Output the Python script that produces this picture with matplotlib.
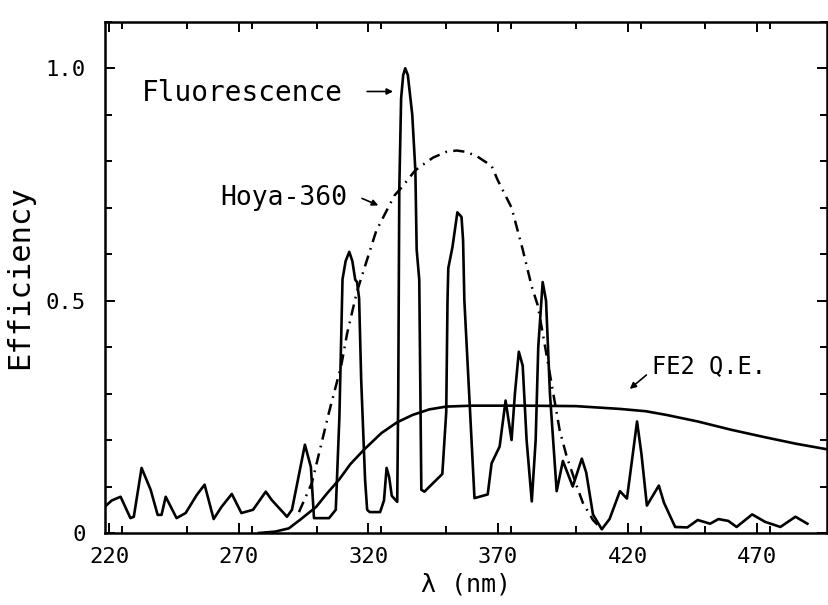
import numpy as np
import matplotlib
matplotlib.use("Agg")
import matplotlib.pyplot as plt
from matplotlib.ticker import MultipleLocator, FixedLocator

# Fluorescence spectrum (solid, spiky)
fluo_wl = [217.8, 221.0, 224.4, 228.2, 229.5, 232.5, 236.0, 238.7, 240.2, 241.8,
           246.0, 249.5, 253.8, 256.8, 260.3, 263.3, 267.3, 271.0, 275.5, 280.4,
           282.7, 288.6, 290.5, 295.5, 297.8, 299.0, 304.8, 307.4, 308.8, 310.0,
           311.2, 312.6, 313.8, 314.9, 315.6, 316.4, 317.2, 318.7, 319.5, 320.5,
           324.5, 326.0, 327.0, 328.0, 329.0, 331.1, 331.5, 331.9, 332.6, 333.4,
           334.2, 335.2, 336.9, 338.1, 338.6, 339.6, 340.4, 341.6, 348.5, 350.0,
           350.5, 350.8, 352.4, 354.3, 355.9, 356.5, 357.0, 359.0, 360.9, 366.0,
           367.5, 370.6, 372.9, 375.2, 376.5, 378.0, 379.5, 381.0, 383.0, 384.5,
           385.5, 387.2, 388.5, 390.0, 392.6, 395.0, 398.8, 402.3, 404.0, 406.6,
           410.0, 413.0, 415.0, 417.0, 419.7, 421.5, 423.6, 425.3, 427.4, 432.0,
           434.0, 438.3, 443.0, 447.0, 451.8, 455.0, 458.8, 462.0, 468.0, 473.0,
           478.9, 484.7, 489.3]
fluo_eff = [0.054, 0.070, 0.078, 0.032, 0.035, 0.140, 0.093, 0.039, 0.039, 0.078,
            0.032, 0.043, 0.082, 0.104, 0.030, 0.056, 0.084, 0.043, 0.050, 0.089,
            0.071, 0.035, 0.050, 0.190, 0.142, 0.032, 0.032, 0.050, 0.250, 0.546,
            0.585, 0.605, 0.585, 0.545, 0.540, 0.505, 0.330, 0.115, 0.050, 0.045,
            0.045, 0.070, 0.140, 0.120, 0.080, 0.067, 0.300, 0.740, 0.935, 0.985,
            1.000, 0.985, 0.900, 0.780, 0.610, 0.545, 0.093, 0.089, 0.127, 0.260,
            0.500, 0.570, 0.615, 0.690, 0.680, 0.630, 0.500, 0.283, 0.075, 0.083,
            0.150, 0.186, 0.285, 0.200, 0.300, 0.390, 0.360, 0.200, 0.068, 0.200,
            0.400, 0.540, 0.500, 0.300, 0.090, 0.155, 0.100, 0.160, 0.130, 0.040,
            0.008, 0.030, 0.060, 0.090, 0.074, 0.150, 0.240, 0.170, 0.059, 0.102,
            0.065, 0.013, 0.012, 0.028, 0.020, 0.030, 0.026, 0.013, 0.040, 0.024,
            0.013, 0.035, 0.020]

# Hoya-360 filter transmission (dash-dot)
hoya_wl = [293.2, 298.2, 304.8, 309.5, 311.8, 315.6, 323.0, 330.0, 333.0, 338.0,
           340.4, 345.0, 350.0, 354.0, 357.8, 362.0, 367.5, 369.8, 375.2, 379.5,
           383.0, 385.3, 388.8, 393.8, 396.5, 400.4, 402.7, 406.6, 410.0]
hoya_eff = [0.045, 0.108, 0.260, 0.360, 0.430, 0.520, 0.650, 0.726, 0.745, 0.780,
            0.790, 0.808, 0.820, 0.823, 0.820, 0.810, 0.790, 0.760, 0.700, 0.610,
            0.530, 0.490, 0.380, 0.220, 0.164, 0.100, 0.065, 0.028, 0.008]

# FE2 photocathode quantum efficiency (smooth solid)
qe_wl = [277.7, 284.0, 289.3, 294.0, 299.8, 304.0, 308.7, 313.0, 318.4, 325.0,
         331.0, 337.0, 343.5, 350.0, 360.0, 380.0, 400.0, 417.0, 427.0, 435.0,
         447.0, 460.0, 473.0, 485.0, 497.0]
qe_eff = [0.000, 0.003, 0.010, 0.030, 0.056, 0.085, 0.115, 0.148, 0.180, 0.215,
          0.238, 0.254, 0.266, 0.272, 0.274, 0.274, 0.273, 0.267, 0.262, 0.254,
          0.240, 0.222, 0.206, 0.192, 0.180]

x_major = [220, 270, 320, 370, 420, 470]
y_major = [0.0, 0.5, 1.0]
y_labels = ["0", "0.5", "1.0"]

plt.rcParams["font.family"] = ["DejaVu Sans Mono", "DejaVu Sans"]

fig = plt.figure(figsize=(8.29, 6.05), dpi=100)
ax = fig.add_axes([0.127, 0.119, 0.871, 0.845])

ax.plot(fluo_wl, fluo_eff, color="black", lw=1.9, solid_joinstyle="round")
ax.plot(hoya_wl, hoya_eff, color="black", lw=1.8,
        linestyle=(0, (4.5, 2.5, 0.7, 2.5)))
ax.plot(qe_wl, qe_eff, color="black", lw=1.9)

ax.set_xlim(218.5, 497)
ax.set_ylim(0, 1.1)

ax.xaxis.set_major_locator(FixedLocator(x_major))
ax.xaxis.set_minor_locator(MultipleLocator(25))
ax.yaxis.set_major_locator(FixedLocator(y_major))
ax.yaxis.set_minor_locator(MultipleLocator(0.1))
ax.set_yticklabels(y_labels)

ax.tick_params(which="both", direction="in", top=True, right=True,
               width=1.4, labelsize=16)
ax.tick_params(which="major", length=7)
ax.tick_params(which="minor", length=5)
ax.tick_params(axis="x", pad=10)
ax.tick_params(axis="y", pad=14)
for s in ax.spines.values():
    s.set_linewidth(1.8)

ax.set_xlabel("λ (nm)", fontsize=18, labelpad=4)
ax.set_ylabel("Efficiency", fontsize=22, labelpad=8)

arrow = dict(arrowstyle="-|>", color="black", lw=1.2, mutation_scale=9,
             shrinkA=0, shrinkB=0)
ax.text(232.5, 0.946, "Fluorescence", fontsize=20, va="center", ha="left")
ax.annotate("", xy=(329.5, 0.95), xytext=(319.5, 0.95), arrowprops=arrow)
ax.text(263.0, 0.72, "Hoya-360", fontsize=19, va="center", ha="left")
ax.annotate("", xy=(323.8, 0.705), xytext=(317.5, 0.72), arrowprops=arrow)
ax.text(429.5, 0.36, "FE2 Q.E.", fontsize=17, va="center", ha="left")
ax.annotate("", xy=(420.8, 0.31), xytext=(427.2, 0.34), arrowprops=arrow)

fig.savefig("out.png", dpi=100)
